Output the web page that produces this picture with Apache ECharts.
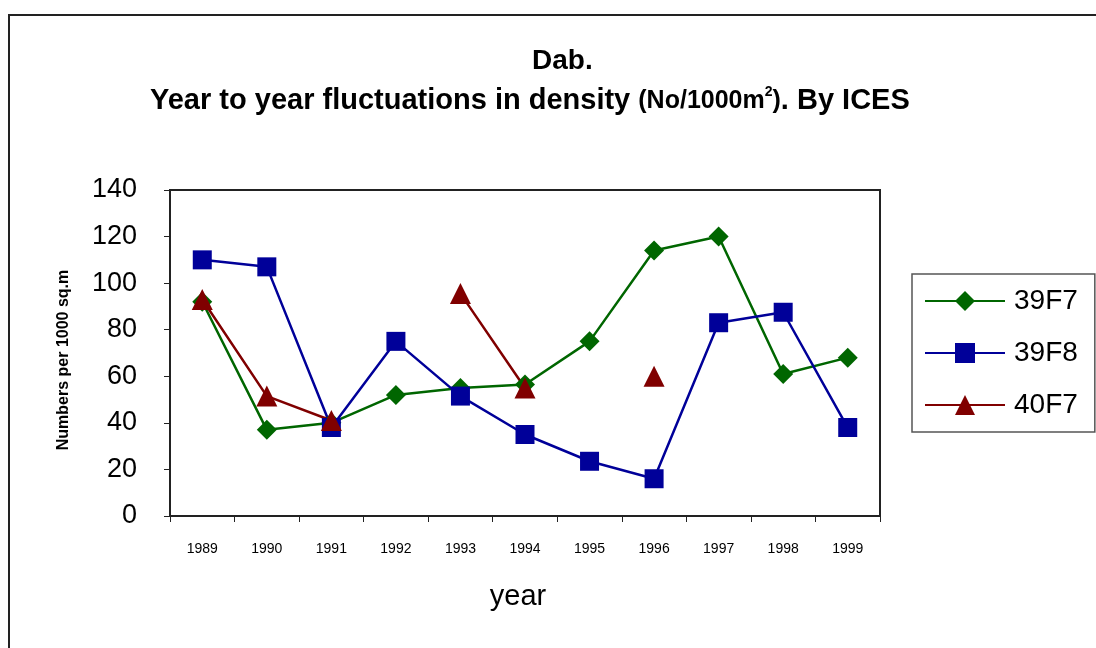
<!DOCTYPE html>
<html>
<head>
<meta charset="utf-8">
<script src="https://cdn.jsdelivr.net/npm/echarts@6/dist/echarts.min.js"></script>
<style>
  html, body { margin: 0; padding: 0; background: #fff; }
  #chart { width: 1096px; height: 648px; }
</style>
</head>
<body>
<div id="chart"></div>
<script>
const years = ['1989', '1990', '1991', '1992', '1993', '1994', '1995', '1996', '1997', '1998', '1999'];
const s39F7 = [92, 37, 40, 52, 55, 56.5, 75, 114, 120, 61, 68];
const s39F8 = [110, 107, 38, 75, 51.5, 35, 23.5, 16, 83, 87.5, 38];
const s40F7 = [93, 51.5, 41, null, 95.5, 55, null, 60, null, null, null];
const yTicks = { min: 0, max: 140, step: 20 };

const font = 'Liberation Sans, Arial, sans-serif';
const myChart = echarts.init(document.getElementById('chart'));

const option = {
  animation: false,
  backgroundColor: '#fff',
  textStyle: { fontFamily: font, color: '#000' },
  title: [
    {
      text: 'Dab.',
      left: 527, top: 42,
      textStyle: { fontSize: 28, fontWeight: 'bold', color: '#000', fontFamily: font }
    },
    {
      text: '{a|Year to year fluctuations in density }{b|(No/1000m}{s|2}{b|)}{a|. By ICES}',
      left: 145, top: 80,
      textStyle: {
        fontFamily: font,
        rich: {
          a: { fontSize: 29, fontWeight: 'bold', color: '#000', fontFamily: font },
          b: { fontSize: 25, fontWeight: 'bold', color: '#000', fontFamily: font },
          s: { fontSize: 14, fontWeight: 'bold', color: '#000', fontFamily: font, padding: [0, 0, 18, 0] }
        }
      }
    }
  ],
  graphic: [
    {
      type: 'rect',
      shape: { x: 9, y: 15, width: 1200, height: 700 },
      style: { fill: 'none', stroke: '#222', lineWidth: 2 }
    }
  ],
  legend: {
    orient: 'vertical',
    left: 912, top: 274,
    padding: [13, 17, 13, 12],
    itemWidth: 80, itemHeight: 25, itemGap: 24,
    borderColor: '#555', borderWidth: 1.5,
    textStyle: { fontSize: 28, color: '#000', fontFamily: font, padding: [0, 0, 0, 4] },
    data: ['39F7', '39F8', '40F7']
  },
  grid: {
    left: 170, top: 190, right: 216, bottom: 132,
    show: true, borderColor: '#222', borderWidth: 2
  },
  xAxis: {
    type: 'category',
    data: years,
    boundaryGap: true,
    name: 'year',
    nameLocation: 'middle',
    nameGap: 66,
    nameTextStyle: { fontSize: 29, color: '#000', fontFamily: font, padding: [0, 14, 0, 0] },
    axisLine: { lineStyle: { color: '#222', width: 2 } },
    axisTick: { show: true, length: 6, lineStyle: { color: '#222' } },
    axisLabel: { fontSize: 14, color: '#000', margin: 26, fontFamily: font }
  },
  yAxis: {
    type: 'value',
    min: yTicks.min, max: yTicks.max, interval: yTicks.step,
    name: 'Numbers per 1000 sq.m',
    nameLocation: 'middle',
    nameGap: 98,
    nameTextStyle: { fontSize: 16, fontWeight: 'bold', color: '#000', fontFamily: font, padding: [0, 14, 0, 0] },
    axisLine: { show: true, lineStyle: { color: '#222', width: 2 } },
    axisTick: { show: true, length: 6, lineStyle: { color: '#222' } },
    splitLine: { show: false },
    axisLabel: { fontSize: 27, color: '#000', margin: 33, fontFamily: font }
  },
  series: [
    {
      name: '39F7', type: 'line', data: s39F7,
      symbol: 'diamond', symbolSize: 20,
      itemStyle: { color: '#006600' },
      lineStyle: { color: '#006600', width: 2.5 }
    },
    {
      name: '39F8', type: 'line', data: s39F8,
      symbol: 'rect', symbolSize: 19,
      itemStyle: { color: '#000099' },
      lineStyle: { color: '#000099', width: 2.5 }
    },
    {
      name: '40F7', type: 'line', data: s40F7,
      symbol: 'triangle', symbolSize: 21,
      connectNulls: false,
      itemStyle: { color: '#800000' },
      lineStyle: { color: '#800000', width: 2.5 }
    }
  ]
};

myChart.setOption(option);
</script>
</body>
</html>
